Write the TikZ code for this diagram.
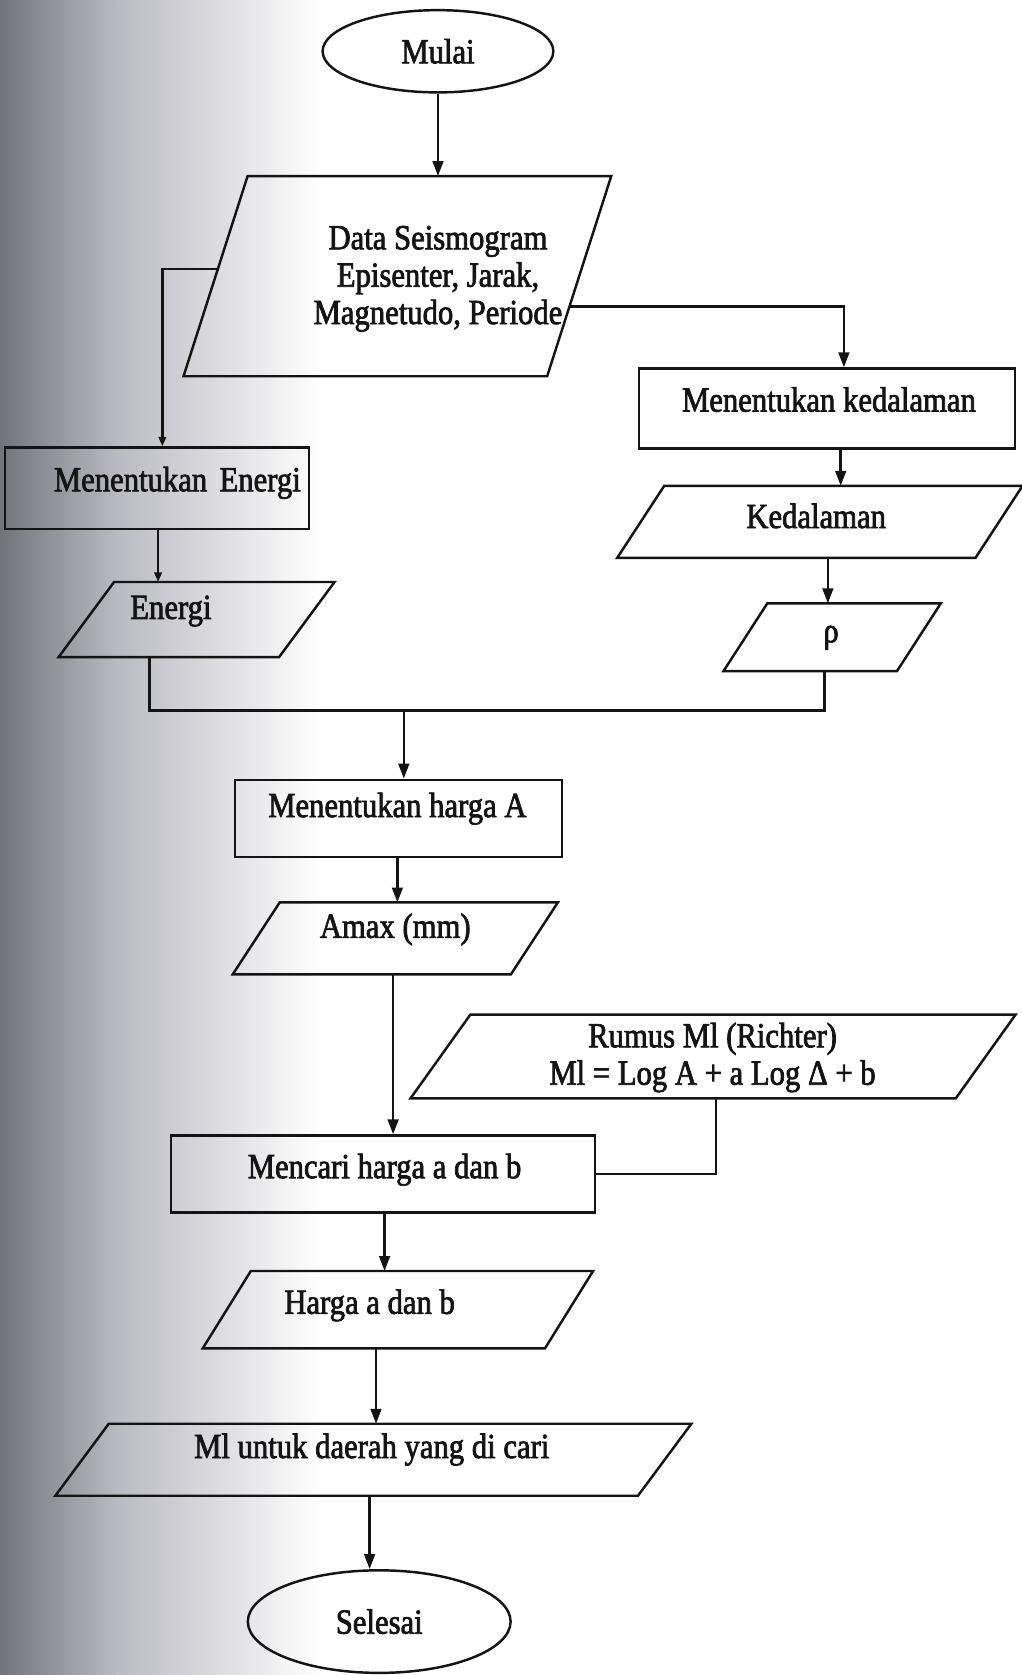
\documentclass[tikz,border=0pt]{standalone}
\usepackage{fontspec}
\setmainfont{Liberation Serif}[FakeStretch=0.87,FakeBold=2]
\usetikzlibrary{arrows.meta,shapes.geometric,calc}
\definecolor{scanL}{RGB}{115,115,123}
\definecolor{scanM}{RGB}{186,186,194}
\definecolor{ink}{RGB}{20,20,20}
\newcommand{\pgramdraw}[2]{%
  \draw[shapeline] ($(#1.south west)+(-#2/2,0)$) -- ($(#1.north west)+(#2/2,0)$)
    -- ($(#1.north east)+(#2/2,0)$) -- ($(#1.south east)+(-#2/2,0)$) -- cycle;}
\tikzset{
  shapeline/.style={draw=ink, line width=2.3pt, line join=miter},
  flowbox/.style={draw=ink, line width=2.3pt, rectangle, inner sep=0pt},
  slot/.style={rectangle, inner sep=0pt},
  lbl/.style={font=\fontsize{33}{35}\selectfont, align=center, text=ink, inner sep=0pt},
  term/.style={ellipse, draw=ink, line width=2.3pt, inner sep=0pt, font=\fontsize{33}{35}\selectfont, text=ink},
  arr/.style={draw=ink, line width=2.3pt, -{Triangle[length=14pt,width=10pt]}},
  arrS/.style={draw=ink, line width=2.3pt, -{Triangle[length=9pt,width=7pt]}},
  link/.style={draw=ink, line width=2.3pt},
}
\begin{document}
\begin{tikzpicture}[x=1pt,y=-1pt]
\useasboundingbox (0,0) rectangle (956,1568);
\fill[white] (0,0) rectangle (956,1568);
\shade[left color=scanL, right color=scanM] (0,0) rectangle (110,1568);
\shade[left color=scanM, right color=white] (110,0) rectangle (300,1568);

% column coordinates
\coordinate (kx) at (790,0);
\coordinate (kc) at (787,0);
\coordinate (rc) at (775,0);
\coordinate (lx1) at (152,0);
\coordinate (lx2) at (148,0);
\coordinate (ac) at (372,0);
\coordinate (bc) at (368,0);
\coordinate (rc2) at (670,0);
\coordinate (cc) at (360,0);
\coordinate (dc) at (352,0);
\coordinate (ec) at (346,0);

% nodes
\node[term, minimum width=216pt, minimum height=77pt] (mulai) at (410,48) {Mulai};

\node[slot, minimum width=340pt, minimum height=187pt] (data) at (372,258.5) {};
\pgramdraw{data}{60}
\node[lbl] (datat) at (410,261) {Data Seismogram\\Episenter, Jarak,\\Magnetudo, Periode};

\node[flowbox, minimum width=352pt, minimum height=75pt] (kedbox) at (774,382.5) {};
\node[lbl] (kedboxt) at (776,374) {Menentukan kedalaman};

\node[slot, minimum width=335pt, minimum height=67pt] (ked) at (767.5,488.5) {};
\pgramdraw{ked}{44}
\node[lbl] (kedt) at (764,483) {Kedalaman};

\node[slot, minimum width=162pt, minimum height=63pt] (rho) at (779,596.5) {};
\pgramdraw{rho}{41}
\node[lbl] (rhot) at (778,597) {ρ};

\node[flowbox, minimum width=285pt, minimum height=76pt] (mene) at (147,457) {};
\node[lbl] (menet) at (166,452) {Menentukan\hspace{0.35em}Energi};

\node[slot, minimum width=206pt, minimum height=70pt] (energi) at (184,580) {};
\pgramdraw{energi}{52}
\node[lbl] (energit) at (160,572) {Energi};

\coordinate (jl) at (140,665);
\coordinate (jr) at (772,665);
\coordinate (jm) at (378,665);
\coordinate (dR) at (533,287);
\coordinate (dL) at (204,252);

\node[flowbox, minimum width=306pt, minimum height=72pt] (hargaA) at (373,766) {};
\node[lbl] (hargaAt) at (372,757) {Menentukan harga A};

\node[slot, minimum width=260pt, minimum height=67pt] (amax) at (370,878.5) {};
\pgramdraw{amax}{44}
\node[lbl] (amaxt) at (370,870) {Amax (mm)};

\node[slot, minimum width=510pt, minimum height=78pt] (rumus) at (667.5,989) {};
\pgramdraw{rumus}{56}
\node[lbl] (rumust) at (667,990) {Rumus Ml (Richter)\\Ml = Log A + a Log Δ + b};

\node[flowbox, minimum width=397pt, minimum height=72pt] (mencari) at (358.5,1099) {};
\node[lbl] (mencarit) at (360,1095) {Mencari harga a dan b};

\node[slot, minimum width=320pt, minimum height=72pt] (harga) at (372.5,1226) {};
\pgramdraw{harga}{45}
\node[lbl] (hargat) at (346,1222) {Harga a dan b};

\node[slot, minimum width=545pt, minimum height=67pt] (ml) at (349.5,1366.5) {};
\pgramdraw{ml}{50}
\node[lbl] (mlt) at (348,1357) {Ml untuk daerah yang di cari};

\node[term, minimum width=246pt, minimum height=96pt] (selesai) at (355,1518) {Selesai};

% connectors
\draw[arr] (mulai.south) -- (data.north -| mulai.south);
\draw[arr] (dR) -| (kedbox.north -| kx);
\draw[arrS] (dL) -| (mene.north -| lx1);
\draw[arrS] (mene.south -| lx2) -- (energi.north -| lx2);
\draw[link] (energi.south -| jl) -- (jl) -- (jr) -- (rho.south -| jr);
\draw[arr] (kedbox.south -| kc) -- (ked.north -| kc);
\draw[arr] (ked.south -| rc) -- (rho.north -| rc);
\draw[arr] (jm) -- (hargaA.north -| jm);
\draw[arr] (hargaA.south -| ac) -- (amax.north -| ac);
\draw[arr] (amax.south -| bc) -- (mencari.north -| bc);
\draw[link] (rumus.south -| rc2) |- (mencari.east);
\draw[arr] (mencari.south -| cc) -- (harga.north -| cc);
\draw[arr] (harga.south -| dc) -- (ml.north -| dc);
\draw[arr] (ml.south -| ec) -- (selesai.north -| ec);
\end{tikzpicture}
\end{document}
